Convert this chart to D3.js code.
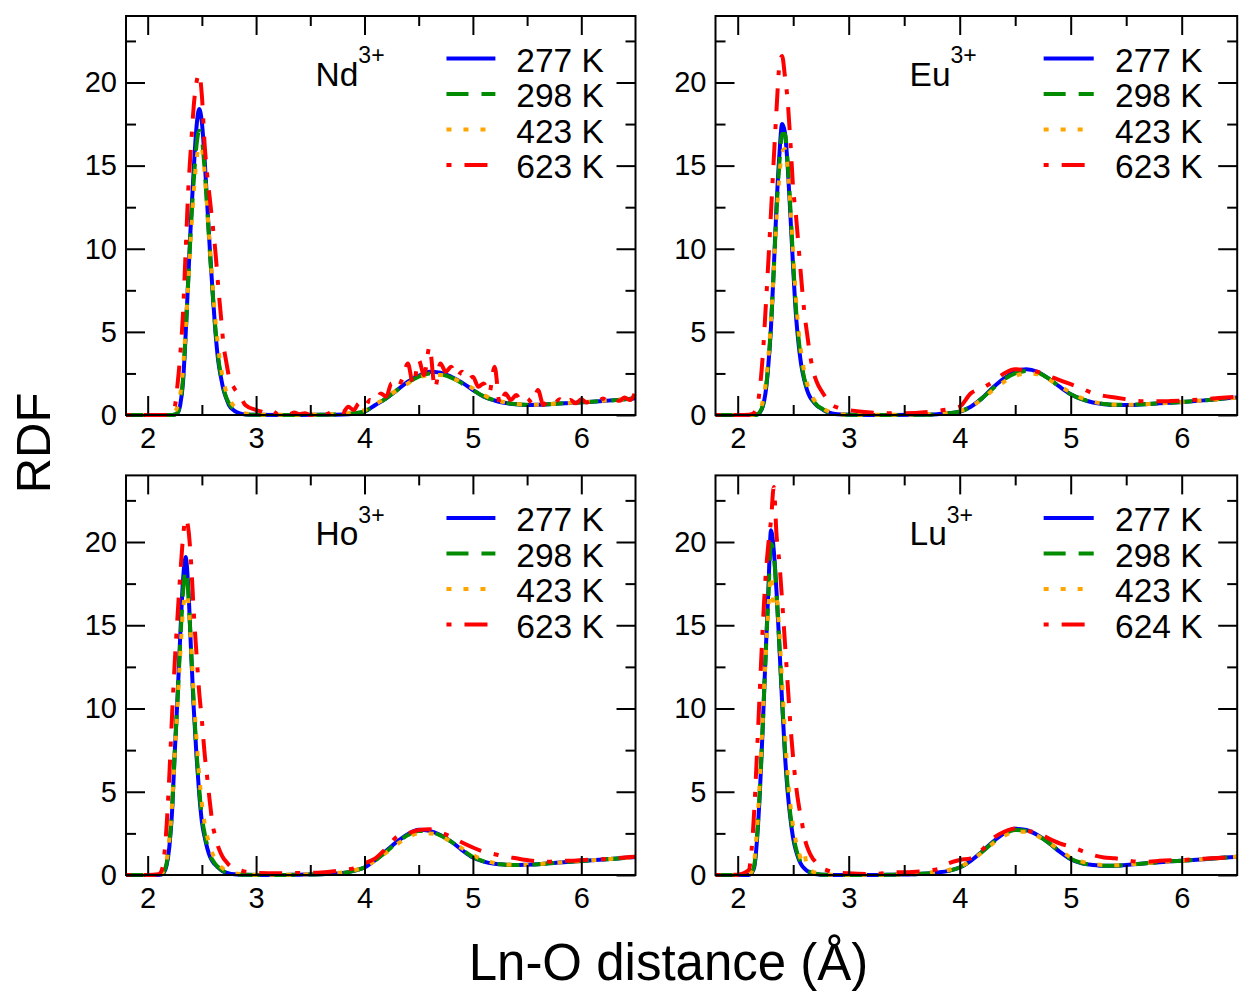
<!DOCTYPE html>
<html>
<head>
<meta charset="utf-8">
<script src="https://cdn.jsdelivr.net/npm/d3@7"></script>
<style>
  body { margin: 0; background: #fff; }
  svg { display: block; font-family: "Liberation Sans", Arial, sans-serif; }
</style>
</head>
<body>
<svg id="chart" width="1240" height="994"></svg>
<script>
const grid = [1.8, 2.0, 2.1, 2.125, 2.15, 2.175, 2.2, 2.225, 2.25, 2.275,
  2.3, 2.325, 2.35, 2.375, 2.4, 2.425, 2.45, 2.475, 2.5, 2.525,
  2.55, 2.575, 2.6, 2.625, 2.65, 2.675, 2.7, 2.725, 2.75, 2.8, 2.85, 2.9,
  3.0, 3.2, 3.4, 3.6, 3.8, 3.9, 4.0, 4.1, 4.2, 4.3, 4.4, 4.5, 4.6, 4.7, 4.8, 4.9,
  5.0, 5.1, 5.2, 5.3, 5.4, 5.5, 5.6, 5.7, 5.8, 5.9, 6.0, 6.2, 6.4, 6.5]

// the noisy Nd 623 K run is read on a finer grid
const ndHotX = [1.8, 2.0, 2.1, 2.125, 2.15, 2.175, 2.2, 2.225, 2.25, 2.275,
  2.3, 2.325, 2.35, 2.375, 2.4, 2.425, 2.45, 2.475, 2.5, 2.525,
  2.55, 2.575, 2.6, 2.625, 2.65, 2.675, 2.7, 2.725, 2.75, 2.8, 2.85, 2.9, 3.0,
  3.05, 3.1, 3.15, 3.2, 3.25, 3.3, 3.35, 3.4, 3.45, 3.5,
  3.55, 3.6, 3.65, 3.7, 3.75, 3.8, 3.85, 3.9, 3.95, 4.0,
  4.05, 4.1, 4.15, 4.2, 4.25, 4.3, 4.35, 4.4, 4.45, 4.5,
  4.55, 4.6, 4.65, 4.7, 4.75, 4.8, 4.85, 4.9, 4.95, 5.0,
  5.05, 5.1, 5.15, 5.2, 5.25, 5.3, 5.35, 5.4, 5.45, 5.5,
  5.55, 5.6, 5.65, 5.7, 5.75, 5.8, 5.85, 5.9, 5.95, 6.0,
  6.05, 6.1, 6.15, 6.2, 6.25, 6.3, 6.35, 6.4, 6.45, 6.5]

// Nd3+
const nd277 = [0, 0, 0, 0, 0, 0, 0, 0, 0.02, 0.12,
  0.6, 1.9, 4.8, 8.3, 11.8, 14.8, 17.3, 18.4, 17.6, 15.4,
  12.6, 9.8, 7.3, 5.0, 3.3, 2.3, 1.5, 1.0, 0.6, 0.25, 0.1, 0.03,
  0.01, 0, 0, 0.01, 0.03, 0.08, 0.2, 0.6, 1.0, 1.5, 2.0, 2.35, 2.6, 2.55, 2.3, 1.95,
  1.5, 1.1, 0.87, 0.72, 0.64, 0.6, 0.61, 0.65, 0.69, 0.72, 0.76, 0.84, 0.94, 1.0]
const nd298 = [0, 0, 0, 0, 0, 0, 0, 0, 0.03, 0.15,
  0.7, 2.1, 4.9, 8.2, 11.4, 14.1, 16.2, 17.1, 16.6, 14.8,
  12.3, 9.7, 7.3, 5.2, 3.5, 2.4, 1.6, 1.05, 0.7, 0.3, 0.12, 0.05,
  0.01, 0, 0, 0.01, 0.04, 0.1, 0.22, 0.6, 1.0, 1.5, 1.95, 2.3, 2.5, 2.45, 2.25, 1.9,
  1.5, 1.12, 0.88, 0.73, 0.65, 0.61, 0.62, 0.65, 0.69, 0.72, 0.76, 0.84, 0.94, 1.0]
const nd423 = [0, 0, 0, 0, 0, 0, 0.02, 0.05, 0.2, 0.5,
  1.2, 2.7, 5.2, 8.0, 10.9, 13.4, 15.3, 16.2, 16.0, 14.6,
  12.4, 10.0, 7.7, 5.7, 4.1, 2.9, 2.0, 1.4, 1.0, 0.5, 0.25, 0.1,
  0.03, 0.01, 0.02, 0.03, 0.08, 0.15, 0.3, 0.65, 1.05, 1.5, 1.9, 2.25, 2.4, 2.4, 2.25, 1.95,
  1.6, 1.2, 0.92, 0.76, 0.66, 0.62, 0.62, 0.65, 0.7, 0.73, 0.77, 0.85, 0.95, 1.0]
const nd623 = [0, 0, 0, 0, 0, 0, 0, 0.2, 0.5, 1.8,
  3.6, 6.0, 9.8, 13.6, 16.2, 18.6, 20.0, 20.5, 19.2, 16.3,
  14.4, 12.9, 11.4, 9.8, 7.8, 6.0, 4.2, 3.2, 2.3, 1.6, 1.2, 0.6, 0.3,
  0.2, 0.1, 0.25, 0.05, 0.1, 0.0, 0.15, 0.05, 0.1, 0.0,
  0.08, 0.15, 0.05, 0.2, 0.3, 0.15, 0.5, 0.3, 0.7, 0.45,
  0.9, 0.8, 1.3, 1.1, 1.9, 1.6, 2.2, 3.1, 1.8, 3.3,
  2.4, 4.1, 1.6, 3.1, 2.6, 2.9, 2.3, 2.6, 2.1, 2.3,
  1.7, 1.9, 1.3, 2.9, 0.6, 1.3, 0.9, 1.2, 0.8, 1.0,
  0.7, 1.5, 0.6, 0.9, 0.7, 0.95, 0.65, 0.9, 0.7, 0.95,
  0.75, 0.9, 0.8, 1.0, 0.8, 0.95, 0.85, 1.05, 0.9, 1.4]

// Eu3+
const eu277 = [0, 0, 0, 0, 0, 0.02, 0.15, 0.5, 1.3, 2.9,
  5.3, 8.8, 12.6, 15.6, 17.5, 17.0, 15.0, 12.0, 8.8, 6.0,
  4.2, 2.9, 2.1, 1.5, 1.1, 0.85, 0.65, 0.5, 0.4, 0.2, 0.1, 0.04,
  0.01, 0, 0, 0.01, 0.05, 0.1, 0.2, 0.5, 1.0, 1.65, 2.2, 2.6, 2.75, 2.6, 2.2, 1.7,
  1.25, 0.95, 0.75, 0.65, 0.6, 0.6, 0.62, 0.66, 0.7, 0.74, 0.78, 0.88, 1.0, 1.05]
const eu298 = [0, 0, 0, 0, 0, 0.03, 0.18, 0.55, 1.4, 3.0,
  5.4, 8.7, 12.3, 15.1, 16.9, 16.9, 15.2, 12.4, 9.2, 6.4,
  4.5, 3.1, 2.2, 1.6, 1.15, 0.9, 0.7, 0.52, 0.42, 0.22, 0.11, 0.05,
  0.01, 0, 0, 0.01, 0.05, 0.1, 0.22, 0.5, 1.0, 1.6, 2.15, 2.5, 2.65, 2.55, 2.2, 1.7,
  1.25, 0.95, 0.76, 0.66, 0.61, 0.61, 0.63, 0.66, 0.7, 0.74, 0.78, 0.88, 1.0, 1.05]
const eu423 = [0, 0, 0, 0, 0.02, 0.08, 0.3, 0.8, 1.8, 3.4,
  5.7, 8.7, 11.8, 14.3, 15.8, 16.0, 14.8, 12.5, 9.7, 7.0,
  5.0, 3.6, 2.6, 1.9, 1.4, 1.05, 0.8, 0.6, 0.48, 0.27, 0.14, 0.07,
  0.02, 0.01, 0.01, 0.03, 0.08, 0.14, 0.25, 0.5, 0.95, 1.5, 2.0, 2.35, 2.5, 2.45, 2.15, 1.75,
  1.35, 1.02, 0.8, 0.68, 0.62, 0.61, 0.63, 0.66, 0.7, 0.74, 0.78, 0.88, 0.98, 1.04]
const eu623 = [0, 0, 0.02, 0.05, 0.15, 0.5, 1.6, 3.5, 6.2, 9.1,
  12.2, 15.4, 18.4, 21.0, 21.6, 20.4, 18.9, 16.4, 13.6, 12.0,
  10.0, 8.0, 6.2, 4.9, 3.7, 2.8, 2.2, 1.8, 1.5, 1.0, 0.6, 0.45,
  0.3, 0.15, 0.1, 0.12, 0.25, 0.35, 0.5, 1.3, 1.6, 2.0, 2.5, 2.75, 2.7, 2.6, 2.35, 2.1,
  1.85, 1.6, 1.3, 1.15, 1.05, 0.95, 0.85, 0.82, 0.82, 0.84, 0.87, 0.95, 1.05, 1.1]

// Ho3+
const ho277 = [0, 0, 0, 0.02, 0.15, 0.6, 1.7, 3.8, 7.4, 10.6,
  14.3, 17.6, 19.1, 17.2, 13.5, 10.0, 7.2, 4.9, 3.2, 2.3,
  1.6, 1.1, 0.8, 0.6, 0.45, 0.3, 0.2, 0.14, 0.1, 0.05, 0.02, 0.01,
  0, 0, 0.02, 0.05, 0.12, 0.25, 0.45, 0.9, 1.45, 2.0, 2.45, 2.72, 2.65, 2.4, 2.0, 1.5,
  1.05, 0.8, 0.67, 0.62, 0.6, 0.62, 0.65, 0.7, 0.75, 0.8, 0.84, 0.93, 1.03, 1.08]
const ho298 = [0, 0, 0, 0.03, 0.2, 0.7, 1.9, 4.0, 7.4, 10.5,
  13.9, 16.9, 18.3, 16.9, 13.6, 10.3, 7.5, 5.2, 3.5, 2.5,
  1.75, 1.2, 0.88, 0.65, 0.48, 0.33, 0.22, 0.15, 0.11, 0.05, 0.02, 0.01,
  0, 0, 0.02, 0.05, 0.12, 0.25, 0.45, 0.88, 1.4, 1.95, 2.4, 2.65, 2.6, 2.38, 2.0, 1.52,
  1.08, 0.82, 0.68, 0.62, 0.6, 0.62, 0.65, 0.7, 0.75, 0.8, 0.84, 0.93, 1.03, 1.08]
const ho423 = [0, 0, 0.02, 0.08, 0.3, 0.9, 2.2, 4.3, 7.3, 10.2,
  13.2, 15.8, 16.9, 16.4, 13.8, 10.8, 8.2, 6.0, 4.3, 3.1,
  2.3, 1.7, 1.25, 0.95, 0.7, 0.5, 0.36, 0.26, 0.19, 0.1, 0.05, 0.03,
  0.01, 0.01, 0.03, 0.07, 0.15, 0.28, 0.48, 0.88, 1.35, 1.85, 2.25, 2.5, 2.5, 2.35, 2.0, 1.6,
  1.2, 0.9, 0.72, 0.64, 0.61, 0.62, 0.65, 0.7, 0.75, 0.8, 0.84, 0.93, 1.02, 1.08]
const ho623 = [0, 0, 0.05, 0.2, 1.0, 3.0, 6.0, 9.6, 12.8, 15.5,
  18.0, 20.2, 21.4, 20.8, 18.8, 15.8, 13.3, 11.0, 9.3, 7.3,
  5.8, 4.3, 3.0, 2.3, 1.7, 1.3, 1.0, 0.8, 0.6, 0.4, 0.3, 0.2,
  0.12, 0.1, 0.12, 0.15, 0.3, 0.4, 0.7, 1.0, 1.6, 2.3, 2.5, 2.7, 2.75, 2.55, 2.3, 1.95,
  1.65, 1.4, 1.25, 1.1, 1.0, 0.9, 0.82, 0.8, 0.85, 0.85, 0.9, 0.95, 1.05, 1.1]

// Lu3+
const lu277 = [0, 0, 0, 0.1, 0.5, 2.2, 5.0, 8.8, 13.0, 16.9,
  20.7, 19.5, 17.0, 13.8, 10.4, 7.3, 5.0, 3.4, 2.2, 1.45,
  0.95, 0.6, 0.4, 0.25, 0.16, 0.1, 0.06, 0.04, 0.02, 0.01, 0, 0,
  0, 0, 0.02, 0.05, 0.15, 0.25, 0.45, 0.85, 1.4, 2.0, 2.5, 2.78, 2.7, 2.4, 1.95, 1.4,
  0.95, 0.7, 0.6, 0.55, 0.55, 0.6, 0.66, 0.72, 0.77, 0.82, 0.86, 0.95, 1.05, 1.1]
const lu298 = [0, 0, 0, 0.12, 0.6, 2.4, 5.2, 8.9, 12.9, 16.5,
  19.9, 19.2, 16.9, 13.9, 10.6, 7.6, 5.3, 3.6, 2.4, 1.6,
  1.05, 0.68, 0.45, 0.29, 0.19, 0.12, 0.07, 0.05, 0.03, 0.01, 0, 0,
  0, 0, 0.02, 0.05, 0.15, 0.25, 0.45, 0.85, 1.38, 1.95, 2.45, 2.7, 2.65, 2.38, 1.95, 1.42,
  0.98, 0.72, 0.61, 0.56, 0.56, 0.6, 0.66, 0.72, 0.77, 0.82, 0.86, 0.95, 1.05, 1.1]
const lu423 = [0, 0, 0.02, 0.2, 0.9, 2.9, 5.8, 9.3, 12.8, 15.9,
  18.0, 16.2, 16.6, 14.6, 11.6, 8.6, 6.1, 4.2, 2.9, 2.0,
  1.4, 0.9, 1.3, 0.45, 0.3, 0.2, 0.14, 0.1, 0.07, 0.04, 0.02, 0.01,
  0.01, 0.01, 0.03, 0.08, 0.2, 0.3, 0.5, 0.85, 1.35, 1.9, 2.35, 2.6, 2.6, 2.35, 1.95, 1.5,
  1.05, 0.8, 0.66, 0.6, 0.58, 0.62, 0.67, 0.72, 0.77, 0.82, 0.86, 0.95, 1.04, 1.1]
const lu624 = [0, 0.02, 0.3, 1.5, 4.0, 7.5, 11.2, 14.8, 17.8, 19.8,
  21.3, 23.3, 20.4, 18.8, 16.5, 14.0, 11.5, 9.0, 7.0, 5.4,
  4.2, 3.3, 2.3, 1.7, 1.3, 1.0, 0.8, 0.6, 0.45, 0.3, 0.2, 0.15,
  0.1, 0.05, 0.15, 0.2, 0.35, 0.7, 0.9, 1.0, 1.5, 2.2, 2.6, 2.8, 2.65, 2.55, 2.2, 1.9,
  1.7, 1.45, 1.2, 1.05, 1.0, 0.9, 0.8, 0.8, 0.85, 0.88, 0.9, 0.98, 1.05, 1.12]

const ions = ["Nd", "Eu", "Ho", "Lu"]
const labels = ["277 K", "298 K", "423 K", "623 K"]
const labelsLu = ["277 K", "298 K", "423 K", "624 K"]
const xTicks = [2, 3, 4, 5, 6]
const xMinor = [2.5, 3.5, 4.5, 5.5]
const yTicks = [0, 5, 10, 15, 20]
const yMinor = [2.5, 7.5, 12.5, 17.5, 22.5]

const panels = [
    { ion: ions[0], labels: labels, series: [[grid, nd277], [grid, nd298], [grid, nd423], [ndHotX, nd623]] },
    { ion: ions[1], labels: labels, series: [[grid, eu277], [grid, eu298], [grid, eu423], [grid, eu623]] },
    { ion: ions[2], labels: labels, series: [[grid, ho277], [grid, ho298], [grid, ho423], [grid, ho623]] },
    { ion: ions[3], labels: labelsLu, series: [[grid, lu277], [grid, lu298], [grid, lu423], [grid, lu624]] }
]

// layout
const frames = [
    { left: 126, right: 635.5, top: 16, bottom: 415 },
    { left: 715.5, right: 1237.2, top: 16, bottom: 415 },
    { left: 126, right: 635.5, top: 475.4, bottom: 875 },
    { left: 715.5, right: 1237.2, top: 475.4, bottom: 875 }
]
const lineStyles = [
    { color: "#0000ff", dash: null },
    { color: "#008b00", dash: "22,13" },
    { color: "#ffa500", dash: "5,12" },
    { color: "#ff0000", dash: "5,13,23,13" }
]
const legendRows = [42.5, 78, 113.5, 149]

const svg = d3.select("#chart")
const defs = svg.append("defs")

const styleAxis = (g) => {
    g.select(".domain").remove()
    g.selectAll(".tick line")
        .attr("stroke", "#000")
        .attr("stroke-width", 2)
    g.selectAll(".tick text")
        .attr("font-size", 29)
        .attr("fill", "#000")
}

panels.forEach((p, i) => {
    const f = frames[i]
    const w = f.right - f.left

    let x = d3.scaleLinear().domain([1.8, 6.5]).range([f.left, f.right])
    let y = d3.scaleLinear().domain([0, 24]).range([f.bottom, f.top])

    defs.append("clipPath").attr("id", "clip" + i)
        .append("rect")
        .attr("x", f.left)
        .attr("y", f.top)
        .attr("width", w + 4)
        .attr("height", f.bottom - f.top + 3)

    const line = d3.line()
        .x(d => x(d[0]))
        .y(d => y(d[1]))
        .curve(d3.curveMonotoneX)

    const curves = svg.append("g").attr("clip-path", "url(#clip" + i + ")")
    p.series.forEach((s, k) => {
        curves.append("path")
            .datum(d3.zip(s[0], s[1]))
            .attr("d", line)
            .attr("fill", "none")
            .attr("stroke", lineStyles[k].color)
            .attr("stroke-width", 4)
            .attr("stroke-linejoin", "round")
            .attr("stroke-dasharray", lineStyles[k].dash)
    })

    // ticks on all four sides, pointing inward
    svg.append("g").attr("transform", "translate(0," + f.bottom + ")")
        .call(d3.axisBottom(x).tickValues(xTicks).tickFormat(d3.format("d"))
            .tickSize(-19).tickSizeOuter(0).tickPadding(12))
        .call(styleAxis)
    svg.append("g").attr("transform", "translate(0," + f.bottom + ")")
        .call(d3.axisBottom(x).tickValues(xMinor).tickSize(-10).tickSizeOuter(0).tickFormat(""))
        .call(styleAxis)
    svg.append("g").attr("transform", "translate(0," + f.top + ")")
        .call(d3.axisTop(x).tickValues(xTicks).tickSize(-19).tickSizeOuter(0).tickFormat(""))
        .call(styleAxis)
    svg.append("g").attr("transform", "translate(0," + f.top + ")")
        .call(d3.axisTop(x).tickValues(xMinor).tickSize(-10).tickSizeOuter(0).tickFormat(""))
        .call(styleAxis)
    svg.append("g").attr("transform", "translate(" + f.left + ",0)")
        .call(d3.axisLeft(y).tickValues(yTicks).tickFormat(d3.format("d"))
            .tickSize(-19).tickSizeOuter(0).tickPadding(9))
        .call(styleAxis)
    svg.append("g").attr("transform", "translate(" + f.left + ",0)")
        .call(d3.axisLeft(y).tickValues(yMinor).tickSize(-10).tickSizeOuter(0).tickFormat(""))
        .call(styleAxis)
    svg.append("g").attr("transform", "translate(" + f.right + ",0)")
        .call(d3.axisRight(y).tickValues(yTicks).tickSize(-19).tickSizeOuter(0).tickFormat(""))
        .call(styleAxis)
    svg.append("g").attr("transform", "translate(" + f.right + ",0)")
        .call(d3.axisRight(y).tickValues(yMinor).tickSize(-10).tickSizeOuter(0).tickFormat(""))
        .call(styleAxis)

    svg.append("rect")
        .attr("x", f.left)
        .attr("y", f.top)
        .attr("width", w)
        .attr("height", f.bottom - f.top)
        .attr("fill", "none")
        .attr("stroke", "#000")
        .attr("stroke-width", 2)

    // ion label with superscript
    const ionText = svg.append("text")
        .attr("x", f.left + 0.372 * w)
        .attr("y", f.top + 70)
        .attr("font-size", 33.5)
        .attr("fill", "#000")
    ionText.append("tspan").text(p.ion)
    ionText.append("tspan")
        .attr("font-size", 23)
        .attr("dy", -22.7)
        .text("3+")

    // legend
    p.labels.forEach((lab, k) => {
        const ly = f.top + legendRows[k]
        svg.append("line")
            .attr("x1", f.left + 0.629 * w)
            .attr("x2", f.left + 0.725 * w)
            .attr("y1", ly)
            .attr("y2", ly)
            .attr("stroke", lineStyles[k].color)
            .attr("stroke-width", 4)
            .attr("stroke-dasharray", lineStyles[k].dash)
        svg.append("text")
            .attr("x", f.left + 0.766 * w)
            .attr("y", ly + 13.4)
            .attr("font-size", 33.5)
            .attr("fill", "#000")
            .text(lab)
    })
})

svg.append("text")
    .attr("transform", "translate(50,443) rotate(-90)")
    .attr("text-anchor", "middle")
    .attr("font-size", 49)
    .attr("fill", "#000")
    .text("RDF")

svg.append("text")
    .attr("x", 668.5)
    .attr("y", 980)
    .attr("text-anchor", "middle")
    .attr("font-size", 51)
    .attr("fill", "#000")
    .text("Ln-O distance (Å)")
</script>
</body>
</html>
